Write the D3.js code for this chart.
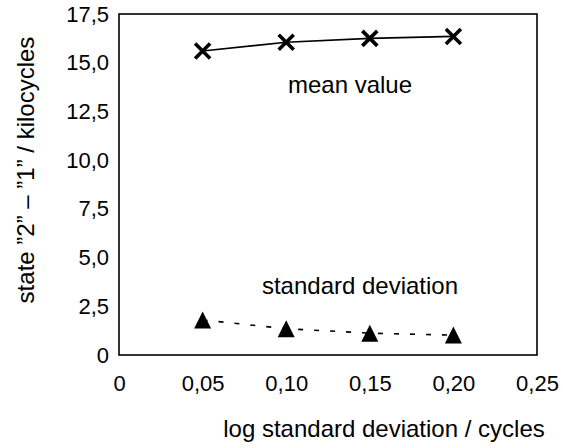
<!DOCTYPE html>
<html>
<head>
<meta charset="utf-8">
<script src="https://cdn.jsdelivr.net/npm/d3@7/dist/d3.min.js"></script>
<style>
  html, body { margin: 0; padding: 0; background: #fff; }
  svg { display: block; }
  text { font-family: "Liberation Sans", Arial, Helvetica, sans-serif; fill: #000; }
</style>
</head>
<body>
<svg id="chart" width="563" height="448"></svg>
<script>
// Log standard deviation of the cycle distribution (x)
const logStdDev = [0.05, 0.10, 0.15, 0.20];
// Time from state "2" to state "1", in kilocycles
const meanValue = [15.6, 16.05, 16.25, 16.35];
const stdDeviation = [1.8, 1.35, 1.12, 1.02];

const xTicks = [0, 0.05, 0.10, 0.15, 0.20, 0.25];
const xTickLabels = ["0", "0,05", "0,10", "0,15", "0,20", "0,25"];
const yTicks = [0, 2.5, 5, 7.5, 10, 12.5, 15, 17.5];
const yTickLabels = ["0", "2,5", "5,0", "7,5", "10,0", "12,5", "15,0", "17,5"];

const svg = d3.select("#chart");
const margin = { left: 119, right: 26, top: 14, bottom: 93 };
const W = 563, H = 448;

const x = d3.scaleLinear().domain([0, 0.25]).range([margin.left, W - margin.right]);
const y = d3.scaleLinear().domain([0, 17.5]).range([H - margin.bottom, margin.top]);

// frame around the plot area
svg.append("rect")
  .attr("x", x(0)).attr("y", y(17.5))
  .attr("width", x(0.25) - x(0)).attr("height", y(0) - y(17.5))
  .attr("fill", "none").attr("stroke", "#000").attr("stroke-width", 1.6);

// y axis tick labels (no tick marks)
const yAxis = d3.axisLeft(y).tickValues(yTicks).tickSize(0).tickPadding(10)
  .tickFormat((d, i) => yTickLabels[i]);
svg.append("g").attr("transform", `translate(${x(0)},0)`).call(yAxis)
  .call(g => g.select(".domain").remove())
  .call(g => g.selectAll("text").style("font-size", "22px")
    .style("font-family", "'Liberation Sans', Arial, sans-serif"));

// x axis tick labels
const xAxis = d3.axisBottom(x).tickValues(xTicks).tickSize(0).tickPadding(20)
  .tickFormat((d, i) => xTickLabels[i]);
svg.append("g").attr("transform", `translate(0,${y(0)})`).call(xAxis)
  .call(g => g.select(".domain").remove())
  .call(g => g.selectAll("text").style("font-size", "22px")
    .style("font-family", "'Liberation Sans', Arial, sans-serif"));

// axis titles
svg.append("text")
  .attr("x", 384).attr("y", 437)
  .attr("text-anchor", "middle")
  .style("font-size", "24px")
  .text("log standard deviation / cycles");

svg.append("text")
  .attr("transform", "translate(34,170) rotate(-90)")
  .attr("text-anchor", "middle")
  .style("font-size", "24px")
  .text("state \u201d2\u201d \u2013 \u201d1\u201d / kilocycles");

// mean value series: solid line with X markers
const meanPts = logStdDev.map((d, i) => [d, meanValue[i]]);
const sdPts = logStdDev.map((d, i) => [d, stdDeviation[i]]);
const line = d3.line().x(d => x(d[0])).y(d => y(d[1]));

svg.append("path").datum(meanPts)
  .attr("d", line).attr("fill", "none")
  .attr("stroke", "#000").attr("stroke-width", 1.6);

const cross = 7.5;
svg.append("g").selectAll("path").data(meanPts).join("path")
  .attr("d", d => {
    const cx = x(d[0]), cy = y(d[1]);
    return `M${cx - cross},${cy - cross}L${cx + cross},${cy + cross}M${cx - cross},${cy + cross}L${cx + cross},${cy - cross}`;
  })
  .attr("stroke", "#000").attr("stroke-width", 3.6).attr("fill", "none");

// standard deviation series: dashed line with filled triangles
svg.append("path").datum(sdPts)
  .attr("d", line).attr("fill", "none")
  .attr("stroke", "#000").attr("stroke-width", 1.6)
  .attr("stroke-dasharray", "5,11");

const tri = 8.5;
svg.append("g").selectAll("path").data(sdPts).join("path")
  .attr("d", d => {
    const cx = x(d[0]), cy = y(d[1]);
    return `M${cx},${cy - tri}L${cx + tri},${cy + tri}L${cx - tri},${cy + tri}Z`;
  })
  .attr("fill", "#000");

// series annotations
svg.append("text")
  .attr("x", 350).attr("y", 93)
  .attr("text-anchor", "middle")
  .style("font-size", "24px")
  .text("mean value");

svg.append("text")
  .attr("x", 360).attr("y", 294)
  .attr("text-anchor", "middle")
  .style("font-size", "24px")
  .text("standard deviation");
</script>
</body>
</html>
